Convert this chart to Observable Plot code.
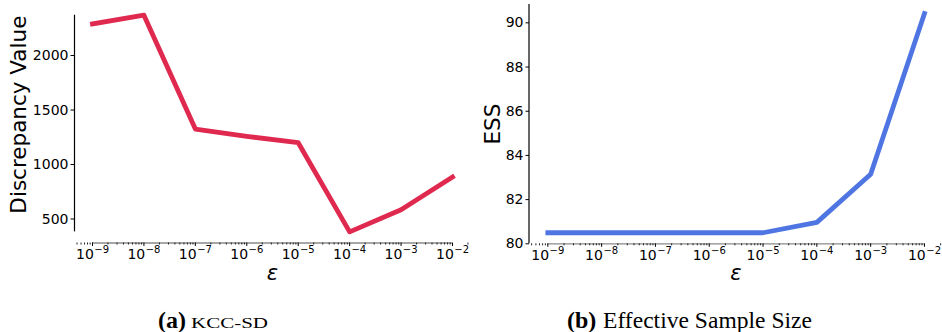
<!DOCTYPE html>
<html>
<head>
<meta charset="utf-8">
<script src="https://cdn.jsdelivr.net/npm/d3@7"></script>
<script src="https://cdn.jsdelivr.net/npm/@observablehq/plot@0.6"></script>
<style>
  body { margin: 0; background: #fff; }
  #wrap { position: relative; width: 942px; height: 332px; overflow: hidden; background: #fff; }
  .panel { position: absolute; top: 0; width: 471px; height: 292px; overflow: hidden; }
  #caps { position: absolute; left: 0; top: 280px; }
</style>
</head>
<body>
<div id="wrap">
  <div id="p1" class="panel" style="left:0px"></div>
  <div id="p2" class="panel" style="left:471px"></div>
  <svg id="caps" width="942" height="52" xmlns="http://www.w3.org/2000/svg"
       font-family="'Liberation Serif','Times New Roman',serif" fill="#000">
    <text x="158" y="48" font-size="24" font-weight="bold">(a)</text>
    <text x="191" y="48" font-size="15" textLength="77" lengthAdjust="spacingAndGlyphs">KCC-SD</text>
    <text x="567" y="48" font-size="24" font-weight="bold">(b)</text>
    <text x="603" y="48" font-size="23.5" textLength="209" lengthAdjust="spacing">Effective Sample Size</text>
  </svg>
</div>
<script>
// ---- data ----
const epsilon = [1e-9, 1e-8, 1e-7, 1e-6, 1e-5, 1e-4, 1e-3, 1e-2];
const kccValues = [2290, 2370, 1325, 1258, 1200, 382, 585, 885];
const essValues = [80.5, 80.5, 80.5, 80.5, 80.5, 80.97, 83.15, 90.42];
const xTickExponents = ["−9", "−8", "−7", "−6", "−5", "−4", "−3", "−2"];
const kccTicks = [500, 1000, 1500, 2000];
const essTicks = [80, 82, 84, 86, 88, 90];
const minorTicks = [];
for (let k = -10; k <= -2; k++) for (let m = 2; m <= 9; m++) {
  const v = m * Math.pow(10, k);
  if (v > Math.pow(10, -9.35) && v < Math.pow(10, -1.65)) minorTicks.push(v);
}
const xDomain = [Math.pow(10, -9.35), Math.pow(10, -1.65)];

function fixTickLabels(svg) {
  const ns = "http://www.w3.org/2000/svg";
  svg.querySelectorAll("text").forEach(t => {
    const s = t.textContent;
    if (!s.includes("|")) return;
    const [b, e] = s.split("|");
    t.textContent = "";
    const t1 = document.createElementNS(ns, "tspan");
    t1.textContent = b;
    const t2 = document.createElementNS(ns, "tspan");
    t2.setAttribute("dy", "-6");
    t2.setAttribute("dx", "0.5");
    t2.setAttribute("font-size", "10");
    t2.textContent = e;
    t.append(t1, t2);
  });
}

function panel(o) {
  const data = epsilon.map((e, i) => ({e, v: o.values[i]}));
  const chart = Plot.plot({
    width: 471,
    height: 292,
    marginLeft: o.marginLeft,
    marginRight: o.marginRight,
    marginTop: o.marginTop,
    marginBottom: o.marginBottom,
    style: {fontFamily: "'DejaVu Sans', sans-serif", fontSize: "14px", color: "black", background: "white", overflow: "hidden"},
    x: {type: "log", domain: xDomain, range: o.xRange, label: null},
    y: {domain: o.yDomain, label: null},
    marks: [
      Plot.ruleX([xDomain[0]], {y1: o.spine[0], y2: o.spine[1], stroke: "black", strokeWidth: 1.2}),
      Plot.ruleY([o.yDomain[0]], {x1: epsilon[0], x2: epsilon[epsilon.length - 1], stroke: "#8a8a8a", strokeWidth: 1.3}),
      Plot.axisX(minorTicks, {tickSize: 2, tickFormat: () => "", label: null, stroke: "#222"}),
      Plot.axisX(epsilon, {tickSize: 3.5, tickPadding: 2.5, label: null,
        tickFormat: (d) => "10|" + xTickExponents[epsilon.indexOf(d)]}),
      Plot.axisY(o.yTicks, {tickSize: 3.5, tickPadding: 2.5, label: null, tickFormat: d => String(d)}),
      Plot.line(data, {x: "e", y: "v", stroke: o.color, strokeWidth: 4.8, strokeLinecap: "square", strokeLinejoin: "round"}),
      Plot.text([o.yLabel], {frameAnchor: "left", rotate: -90, dx: o.labelDx, dy: o.labelDy, fontSize: 21.5, textAnchor: "middle", lineAnchor: "middle", fill: "black"}),
      Plot.text(["ε"], {frameAnchor: "bottom", dy: o.epsDy, fontSize: 21, fontStyle: "italic", textAnchor: "middle", lineAnchor: "middle", fill: "black"})
    ]
  });
  fixTickLabels(chart);
  return chart;
}

document.getElementById("p1").append(panel({
  values: kccValues,
  color: "#e0294f",
  marginLeft: 74, marginRight: 1, marginTop: 3.8, marginBottom: 49.5,
  xRange: [74, 470],
  yDomain: [280, 2470],
  spine: [d3.min(kccValues), d3.max(kccValues)],
  yTicks: kccTicks,
  yLabel: "Discrepancy Value",
  labelDx: -55, labelDy: -9,
  epsDy: 30.5
}));

document.getElementById("p2").append(panel({
  values: essValues,
  color: "#4f75e2",
  marginLeft: 58, marginRight: 0, marginTop: 4, marginBottom: 48.7,
  xRange: [57.5, 471.8],
  yDomain: [80, 90.83],
  spine: [80, 90.83],
  yTicks: essTicks,
  yLabel: "ESS",
  labelDx: -36.5, labelDy: 0,
  epsDy: 29.7
}));
</script>
</body>
</html>
